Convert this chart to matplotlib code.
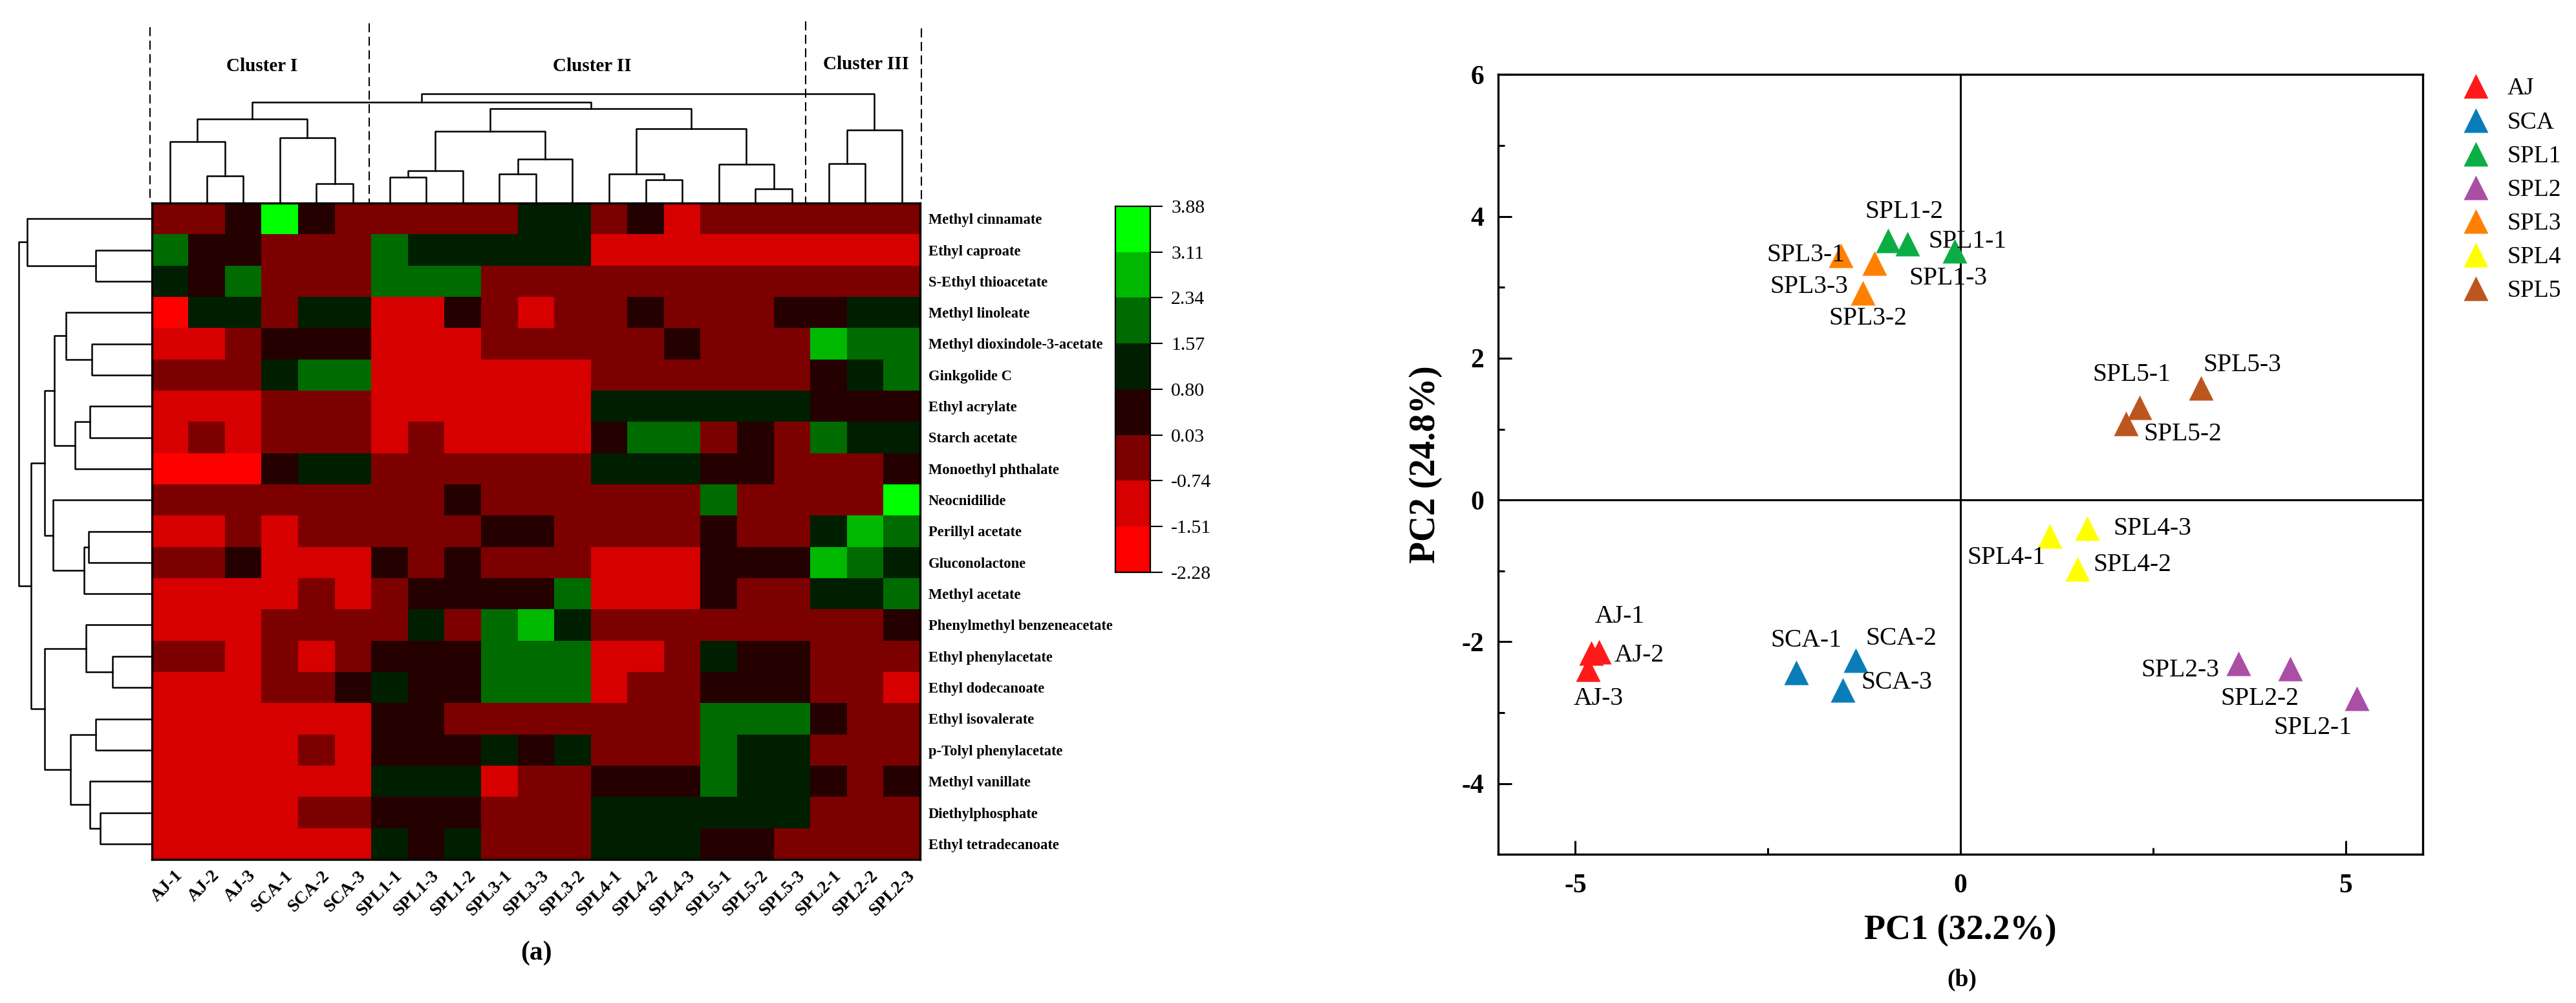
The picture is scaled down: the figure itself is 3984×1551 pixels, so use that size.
import matplotlib
matplotlib.use('Agg')
import numpy as np
import matplotlib.pyplot as plt
from matplotlib.colors import ListedColormap, BoundaryNorm
from matplotlib.lines import Line2D
from matplotlib.transforms import ScaledTranslation

plt.rcParams['font.family'] = ['Liberation Serif', 'DejaVu Serif']
plt.rcParams['axes.unicode_minus'] = False
plt.rcParams['lines.scale_dashes'] = False

W = 3984
H = 1551

# panel (a)
samples = ['AJ-1', 'AJ-2', 'AJ-3', 'SCA-1', 'SCA-2', 'SCA-3', 'SPL1-1', 'SPL1-3', 'SPL1-2', 'SPL3-1', 'SPL3-3',
		   'SPL3-2', 'SPL4-1', 'SPL4-2', 'SPL4-3', 'SPL5-1', 'SPL5-2', 'SPL5-3', 'SPL2-1', 'SPL2-2', 'SPL2-3']
compounds = ['Methyl cinnamate', 'Ethyl caproate', 'S-Ethyl thioacetate', 'Methyl linoleate',
			 'Methyl dioxindole-3-acetate', 'Ginkgolide C', 'Ethyl acrylate', 'Starch acetate',
			 'Monoethyl phthalate', 'Neocnidilide', 'Perillyl acetate', 'Gluconolactone', 'Methyl acetate',
			 'Phenylmethyl benzeneacetate', 'Ethyl phenylacetate', 'Ethyl dodecanoate', 'Ethyl isovalerate',
			 'p-Tolyl phenylacetate', 'Methyl vanillate', 'Diethylphosphate', 'Ethyl tetradecanoate']
bin_edges = [-2.28, -1.51, -0.74, 0.03, 0.80, 1.57, 2.34, 3.11, 3.88]
bin_labels = ['-2.28', '-1.51', '-0.74', '0.03', '0.80', '1.57', '2.34', '3.11', '3.88']
bin_values = [-1.9, -1.1, -0.35, 0.4, 1.2, 1.95, 2.7, 3.5]
bin_colors = ['#FF0000', '#D60000', '#7D0000', '#250000', '#001F00', '#006B00', '#00B800', '#00FF00']

# colour bin of each cell
cell_bins = [
	[2, 2, 3, 7, 3, 2, 2, 2, 2, 2, 4, 4, 2, 3, 1, 2, 2, 2, 2, 2, 2],
	[5, 3, 3, 2, 2, 2, 5, 4, 4, 4, 4, 4, 1, 1, 1, 1, 1, 1, 1, 1, 1],
	[4, 3, 5, 2, 2, 2, 5, 5, 5, 2, 2, 2, 2, 2, 2, 2, 2, 2, 2, 2, 2],
	[0, 4, 4, 2, 4, 4, 1, 1, 3, 2, 1, 2, 2, 3, 2, 2, 2, 3, 3, 4, 4],
	[1, 1, 2, 3, 3, 3, 1, 1, 1, 2, 2, 2, 2, 2, 3, 2, 2, 2, 6, 5, 5],
	[2, 2, 2, 4, 5, 5, 1, 1, 1, 1, 1, 1, 2, 2, 2, 2, 2, 2, 3, 4, 5],
	[1, 1, 1, 2, 2, 2, 1, 1, 1, 1, 1, 1, 4, 4, 4, 4, 4, 4, 3, 3, 3],
	[1, 2, 1, 2, 2, 2, 1, 2, 1, 1, 1, 1, 3, 5, 5, 2, 3, 2, 5, 4, 4],
	[0, 0, 0, 3, 4, 4, 2, 2, 2, 2, 2, 2, 4, 4, 4, 3, 3, 2, 2, 2, 3],
	[2, 2, 2, 2, 2, 2, 2, 2, 3, 2, 2, 2, 2, 2, 2, 5, 2, 2, 2, 2, 7],
	[1, 1, 2, 1, 2, 2, 2, 2, 2, 3, 3, 2, 2, 2, 2, 3, 2, 2, 4, 6, 5],
	[2, 2, 3, 1, 1, 1, 3, 2, 3, 2, 2, 2, 1, 1, 1, 3, 3, 3, 6, 5, 4],
	[1, 1, 1, 1, 2, 1, 2, 3, 3, 3, 3, 5, 1, 1, 1, 3, 2, 2, 4, 4, 5],
	[1, 1, 1, 2, 2, 2, 2, 4, 2, 5, 6, 4, 2, 2, 2, 2, 2, 2, 2, 2, 3],
	[2, 2, 1, 2, 1, 2, 3, 3, 3, 5, 5, 5, 1, 1, 2, 4, 3, 3, 2, 2, 2],
	[1, 1, 1, 2, 2, 3, 4, 3, 3, 5, 5, 5, 1, 2, 2, 3, 3, 3, 2, 2, 1],
	[1, 1, 1, 1, 1, 1, 3, 3, 2, 2, 2, 2, 2, 2, 2, 5, 5, 5, 3, 2, 2],
	[1, 1, 1, 1, 2, 1, 3, 3, 3, 4, 3, 4, 2, 2, 2, 5, 4, 4, 2, 2, 2],
	[1, 1, 1, 1, 1, 1, 4, 4, 4, 1, 2, 2, 3, 3, 3, 5, 4, 4, 3, 2, 3],
	[1, 1, 1, 1, 2, 2, 3, 3, 3, 2, 2, 2, 4, 4, 4, 4, 4, 4, 2, 2, 2],
	[1, 1, 1, 1, 1, 1, 4, 3, 4, 2, 2, 2, 4, 4, 4, 3, 3, 2, 2, 2, 2],
]

# merge trees: (height, left, right), an int is a leaf index
cluster_one = (251, (182, 0, (79, 1, 2)), (194, 3, (54, 4, 5)))
cluster_two_a = (214, (94, (75, 6, 7), 8), (130, (85, 9, 10), 11))
cluster_two_b = (222, (85, 12, (67, 13, 14)), (113, 15, (40, 16, 17)))
cluster_three = (217, (115, 18, 19), 20)
sample_tree = (328, (301, cluster_one, (283, cluster_two_a, cluster_two_b)), cluster_three)

rows_a = (205, 3, (143, 4, 5))
rows_b = (183, (148, 6, 7), 8)
rows_c = (237, 9, (162, (150, 10, 11), 12))
rows_d = (157, 13, (92, 14, 15))
rows_e = (194, (133, 16, 17), (147, 18, (123, 19, 20)))
compound_tree = (320, (300, 0, (133, 1, 2)), (290, (257, (233, rows_a, rows_b), rows_c), (257, rows_d, rows_e)))

# panel (b)
groups = ['AJ', 'SCA', 'SPL1', 'SPL2', 'SPL3', 'SPL4', 'SPL5']
group_colors = ['#FF1A1A', '#0A7DB8', '#0BAE45', '#AA4FA5', '#FF8000', '#FFFF00', '#BC561F']
pc1 = {
	'AJ': [-4.79, -4.69, -4.84],
	'SCA': [-2.13, -1.36, -1.53],
	'SPL1': [-0.08, -0.94, -0.69],
	'SPL2': [5.14, 4.28, 3.61],
	'SPL3': [-1.55, -1.27, -1.12],
	'SPL4': [1.16, 1.52, 1.64],
	'SPL5': [2.32, 2.15, 3.12],
}
pc2 = {
	'AJ': [-2.16, -2.14, -2.39],
	'SCA': [-2.43, -2.26, -2.68],
	'SPL1': [3.51, 3.66, 3.61],
	'SPL2': [-2.80, -2.38, -2.31],
	'SPL3': [3.45, 2.92, 3.34],
	'SPL4': [-0.51, -0.97, -0.40],
	'SPL5': [1.31, 1.08, 1.58],
}

# where each point's name sits relative to it, in pixels
label_shift = {
	'AJ-1': (44, 57), 'AJ-2': (62, -6), 'AJ-3': (17, -45),
	'SCA-1': (15, 49), 'SCA-2': (70, 33), 'SCA-3': (83, 12),
	'SPL1-1': (20, 15), 'SPL1-2': (25, 44), 'SPL1-3': (63, -53),
	'SPL2-1': (-68, -45), 'SPL2-2': (-47, -46), 'SPL2-3': (-90, -10),
	'SPL3-1': (-55, 0), 'SPL3-2': (8, -39), 'SPL3-3': (-101, -37),
	'SPL4-1': (-67, -33), 'SPL4-2': (85, 6), 'SPL4-3': (101, 0),
	'SPL5-1': (-12, 50), 'SPL5-2': (87, -17), 'SPL5-3': (64, 35),
}


def px_axes(fig, left, top, right, bottom):
	return fig.add_axes([left / W, 1 - bottom / H, (right - left) / W, (bottom - top) / H])


def draw_top(ax, node):
	if isinstance(node, int):
		return node + 0.5, 0
	x1, h1 = draw_top(ax, node[1])
	x2, h2 = draw_top(ax, node[2])
	ax.plot([x1, x1, x2, x2], [h1, node[0], node[0], h2], color='black', lw=1.8, clip_on=False)
	return (x1 + x2) / 2, node[0]


def draw_left(ax, node):
	if isinstance(node, int):
		return node + 0.5, 0
	y1, d1 = draw_left(ax, node[1])
	y2, d2 = draw_left(ax, node[2])
	ax.plot([d1, node[0], node[0], d2], [y1, y1, y2, y2], color='black', lw=1.8, clip_on=False)
	return (y1 + y2) / 2, node[0]


fig = plt.figure(figsize=(W / 100, H / 100), dpi=100, facecolor='white')

# heat map
ax_heat = px_axes(fig, 234.7, 314, 1423, 1329)
cmap = ListedColormap(bin_colors)
norm = BoundaryNorm(bin_edges, cmap.N)
heat = np.array(bin_values)[np.array(cell_bins)]
mesh = ax_heat.pcolormesh(np.arange(22), np.arange(22), heat, cmap=cmap, norm=norm)
ax_heat.set_ylim(21, 0)
ax_heat.set_xlim(0, 21)
for side in ax_heat.spines.values():
	side.set_linewidth(2.4)
ax_heat.yaxis.tick_right()
ax_heat.set_yticks(np.arange(21) + 0.5)
ax_heat.set_yticklabels(compounds, fontsize=16.3, fontweight='bold')
ax_heat.set_xticks(np.arange(21) + 0.5)
ax_heat.set_xticklabels(samples, fontsize=20, fontweight='bold', rotation=45, ha='right', va='top',
						rotation_mode='anchor')
ax_heat.tick_params(axis='y', length=0, pad=9)
ax_heat.tick_params(axis='x', length=0, pad=9)
shift = ScaledTranslation(0.07, 0, fig.dpi_scale_trans)
for lbl in ax_heat.get_xticklabels():
	lbl.set_transform(lbl.get_transform() + shift)

# dendrograms
ax_top = px_axes(fig, 234.7, 130, 1423, 312)
ax_top.set_xlim(0, 21)
ax_top.set_ylim(0, 182 * 1.96)
ax_top.axis('off')
draw_top(ax_top, sample_tree)

ax_left = px_axes(fig, 20, 314, 233, 1329)
ax_left.set_xlim(213 * 1.568, 0)
ax_left.set_ylim(21, 0)
ax_left.axis('off')
draw_left(ax_left, compound_tree)

# cluster dividers and names
for x, y0 in zip([231.5, 571.4, 1245.5, 1425], [42, 36, 33, 44]):
	fig.add_artist(Line2D([x / W, x / W], [1 - y0 / H, 1 - 313 / H], color='black', lw=1.5,
						  linestyle=(0, (10, 5)), transform=fig.transFigure))
for name, x, y in zip(['Cluster I', 'Cluster II', 'Cluster III'], [405, 916, 1339], [102, 102, 99.5]):
	fig.text(x / W, 1 - y / H, name, fontsize=21, fontweight='bold', ha='center', va='center')
fig.text(829 / W, 1 - 1474 / H, '(a)', fontsize=30, fontweight='bold', ha='center', va='center')

# colour key
cax = px_axes(fig, 1724.5, 319, 1779.3, 884.7)
cbar = fig.colorbar(mesh, cax=cax, ticks=bin_edges, spacing='proportional')
cbar.ax.set_yticklabels(bin_labels, fontsize=21.5)
cbar.ax.tick_params(length=14, width=1.5, pad=9)
cbar.outline.set_linewidth(1.6)

# PCA panel
ax_pca = px_axes(fig, 2317.3, 115.3, 3747, 1321.4)
ax_pca.set_xlim(-6, 6)
ax_pca.set_ylim(-5, 6)
ax_pca.axhline(0, color='black', lw=2.2, zorder=1)
ax_pca.axvline(0, color='black', lw=2.2, zorder=1)
for group, color in zip(groups, group_colors):
	ax_pca.plot(pc1[group], pc2[group], linestyle='none', marker='^', ms=28, color=color, mec='none',
				label=group, zorder=2)
	for i in range(3):
		name = group + '-' + str(i + 1)
		ax_pca.annotate(name, (pc1[group][i], pc2[group][i]), xytext=label_shift[name], textcoords='offset pixels',
						fontsize=28.5, ha='center', va='center', zorder=3)
for side in ax_pca.spines.values():
	side.set_linewidth(2.4)
ax_pca.set_xticks([-5, 0, 5])
ax_pca.set_xticks([-2.5, 2.5], minor=True)
ax_pca.set_yticks([-4, -2, 0, 2, 4, 6])
ax_pca.set_yticks([-3, -1, 1, 3, 5], minor=True)
ax_pca.tick_params(which='major', direction='in', length=15, width=2.2, labelsize=30)
ax_pca.tick_params(which='minor', direction='in', length=7.5, width=2.2)
ax_pca.tick_params(axis='x', which='major', pad=21)
ax_pca.tick_params(axis='y', which='major', pad=16)
for lbl in ax_pca.get_xticklabels() + ax_pca.get_yticklabels():
	lbl.set_fontweight('bold')
ax_pca.set_xlabel('PC1 (32.2%)', fontsize=39, fontweight='bold', va='center')
ax_pca.set_ylabel('PC2 (24.8%)', fontsize=40, fontweight='bold', va='center')
ax_pca.xaxis.set_label_coords(0.5, -0.098)
ax_pca.yaxis.set_label_coords(-0.0785, 0.5)
ax_pca.legend(loc='upper left', bbox_to_anchor=(3808 / W, 1 - 120 / H), bbox_transform=fig.transFigure, frameon=False,
			  fontsize=27, labelspacing=0.47, borderpad=0, borderaxespad=0, handlelength=1.1, handletextpad=0.75)
fig.text(3034 / W, 1 - 1515 / H, '(b)', fontsize=27, fontweight='bold', ha='center', va='center')

fig.savefig('out.png', dpi=100, facecolor='white')
